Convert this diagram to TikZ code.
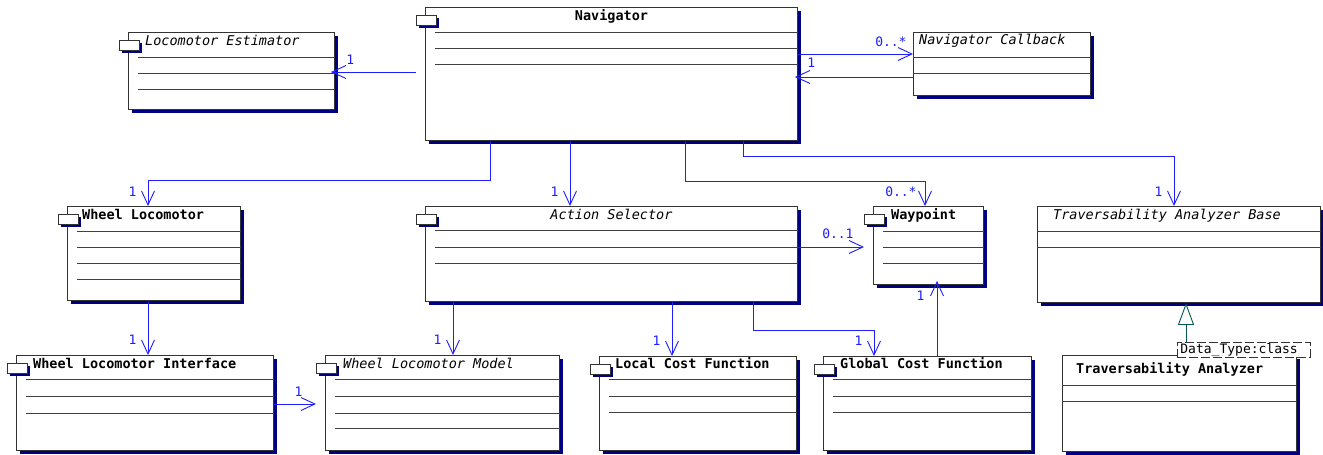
\documentclass[tikz,border=0pt]{standalone}
\usepackage{fontspec}
\setmonofont{DejaVu Sans Mono}
\usetikzlibrary{arrows.meta, shadows}

\definecolor{assocblue}{RGB}{30,30,255}
\definecolor{shadowblue}{RGB}{0,0,128}
\definecolor{genteal}{RGB}{0,85,85}

% class box: name, top-left, width, height, compartment offsets, line inset
\newcommand{\umlclass}[6]{%
  \node[classbox, minimum width=#3pt, minimum height=#4pt] (#1) at (#2) {};
  \foreach \dy in {#5}
    \draw[compline] ([xshift=#6pt, yshift=-\dy pt]#1.north west) -- ([yshift=-\dy pt]#1.north east);
}
% small tab on the left edge of a class
\newcommand{\classicon}[1]{%
  \fill[shadowblue] ([xshift=-6pt, yshift=-11pt]#1.north west) rectangle ++(20,10);
  \draw[iconbox] ([xshift=-9pt, yshift=-8pt]#1.north west) rectangle ++(20,10);
}

\begin{document}
\begin{tikzpicture}[x=1pt, y=-1pt,
    classbox/.style={draw=black!80, fill=white, line width=0.9pt, inner sep=0pt, anchor=north west,
      drop shadow={shadow xshift=4pt, shadow yshift=-4pt, fill=shadowblue, opacity=1}},
    compline/.style={draw=black!75, line width=0.8pt},
    iconbox/.style={draw=black!80, fill=white, line width=0.8pt},
    title/.style={inner sep=0pt, text height=10pt, text depth=3pt},
    abstract/.style={title, font=\ttfamily\itshape\fontsize{13.5}{16}\selectfont},
    concrete/.style={title, font=\ttfamily\bfseries\fontsize{13.5}{16}\selectfont},
    assoc/.style={draw=assocblue, line width=0.9pt, -{Straight Barb[length=14pt, width=13pt]}},
    mult/.style={text=assocblue, font=\ttfamily\fontsize{13}{15}\selectfont, inner sep=0pt},
    gen/.style={draw=genteal, line width=0.9pt, -{Triangle[open, length=22pt, width=16pt]}},
    param/.style={draw=black!80, dash pattern=on 9pt off 3pt, fill=white, line width=0.8pt,
      font=\ttfamily\fontsize{13}{15}\selectfont, text width=127pt, inner xsep=3pt, inner ysep=1pt,
      text height=10pt, text depth=3pt, anchor=north west}
  ]
  \fill[white] (0,0) rectangle (1323,455);
  \useasboundingbox (0,0) rectangle (1323,455);

  % ---------- top row ----------
  \umlclass{nav}{425,7}{372}{133}{25,41,57}{10}
  \classicon{nav}
  \node[concrete] (navT) at ([yshift=-10pt]nav.north) {Navigator};

  \umlclass{le}{128,32}{206}{77}{25,41,57}{10}
  \classicon{le}
  \node[abstract, anchor=west] (leT) at ([xshift=17pt, yshift=-10pt]le.north west) {Locomotor Estimator};

  \umlclass{cb}{913,32}{177}{63}{25,41}{0}
  \node[abstract, anchor=west] (cbT) at ([xshift=6pt, yshift=-9pt]cb.north west) {Navigator Callback};

  % ---------- middle row ----------
  \umlclass{wl}{67,206}{173}{94}{25,41,57,73}{10}
  \classicon{wl}
  \node[concrete, anchor=west] (wlT) at ([xshift=15pt, yshift=-10pt]wl.north west) {Wheel Locomotor};

  \umlclass{as}{425,206}{372}{95}{24,41,57}{10}
  \classicon{as}
  \node[abstract] (asT) at ([yshift=-10pt]as.north) {Action Selector};

  \umlclass{wp}{873,206}{110}{78}{25,41,57}{10}
  \classicon{wp}
  \node[concrete, anchor=west] (wpT) at ([xshift=18pt, yshift=-10pt]wp.north west) {Waypoint};

  \umlclass{tab}{1037,206}{283}{96}{25,41}{0}
  \node[abstract, anchor=west] (tabT) at ([xshift=16pt, yshift=-10pt]tab.north west) {Traversability Analyzer Base};

  % ---------- bottom row ----------
  \umlclass{wli}{16,355}{257}{95}{24,41,58}{10}
  \classicon{wli}
  \node[concrete, anchor=west] (wliT) at ([xshift=17pt, yshift=-10pt]wli.north west) {Wheel Locomotor Interface};

  \umlclass{wlm}{325,355}{234}{95}{24,41,58,73}{10}
  \classicon{wlm}
  \node[abstract, anchor=west] (wlmT) at ([xshift=18pt, yshift=-10pt]wlm.north west) {Wheel Locomotor Model};

  \umlclass{lcf}{599,356}{197}{94}{23,40,56}{10}
  \classicon{lcf}
  \node[concrete, anchor=west] (lcfT) at ([xshift=16pt, yshift=-9pt]lcf.north west) {Local Cost Function};

  \umlclass{gcf}{823,356}{208}{94}{23,40,56}{10}
  \classicon{gcf}
  \node[concrete, anchor=west] (gcfT) at ([xshift=17pt, yshift=-9pt]gcf.north west) {Global Cost Function};

  \umlclass{ta}{1062,355}{234}{96}{30,46}{0}
  \node[concrete, anchor=west] (taT) at ([xshift=14pt, yshift=-15pt]ta.north west) {Traversability Analyzer};

  % ---------- associations ----------
  \draw[assoc, shorten <=9pt, shorten >=-4pt] (nav.west |- 0,72) -- (le.east |- 0,72)
    node[mult, anchor=south west, xshift=11pt, yshift=7pt] (mLE) {1};
  \draw[assoc] (nav.east |- 0,54) -- (cb.west |- 0,54)
    node[mult, anchor=south east, xshift=-6pt, yshift=7pt] (mCB) {0..*};
  \draw[assoc, shorten >=-3pt] (cb.west |- 0,77) -- (nav.east |- 0,77)
    node[mult, anchor=south west, xshift=9pt, yshift=9pt] (mNAV) {1};

  \draw[assoc] (nav.south -| 490,0) -- ++(0,40) -| (wl.north -| 148,0)
    node[mult, anchor=south east, xshift=-11pt, yshift=9pt] (mWL) {1};
  \draw[assoc] (nav.south -| 570,0) -- (as.north -| 570,0)
    node[mult, anchor=south east, xshift=-11pt, yshift=9pt] (mAS) {1};
  \draw[assoc] (nav.south -| 685,0) -- ++(0,41) -| (wp.north -| 925,0)
    node[mult, anchor=south east, xshift=-8pt, yshift=9pt] (mWP) {0..*};
  \draw[assoc] (nav.south -| 743,0) -- ++(0,16) -| (tab.north -| 1174,0)
    node[mult, anchor=south east, xshift=-11pt, yshift=9pt] (mTAB) {1};

  \draw[assoc, shorten >=9pt] (as.east |- 0,247) -- (wp.west |- 0,247)
    node[mult, anchor=south east, xshift=-19pt, yshift=8pt] (mWP2) {0..1};

  \draw[assoc] (wl.south -| 148,0) -- (wli.north -| 148,0)
    node[mult, anchor=south east, xshift=-11pt, yshift=10pt] (mWLI) {1};
  \draw[assoc, shorten >=9pt] (wli.east |- 0,404) -- (wlm.west |- 0,404)
    node[mult, anchor=south east, xshift=-22pt, yshift=7pt] (mWLM) {1};

  \draw[assoc] (as.south -| 453,0) -- (wlm.north -| 453,0)
    node[mult, anchor=south east, xshift=-11pt, yshift=10pt] (mWLM2) {1};
  \draw[assoc] (as.south -| 672,0) -- (lcf.north -| 672,0)
    node[mult, anchor=south east, xshift=-11pt, yshift=10pt] (mLCF) {1};
  \draw[assoc] (as.south -| 753,0) -- ++(0,29) -| (gcf.north -| 874,0)
    node[mult, anchor=south east, xshift=-11pt, yshift=10pt] (mGCF) {1};

  \draw[assoc, shorten >=-4pt] (gcf.north -| 937,0) -- (wp.south -| 937,0)
    node[mult, anchor=north east, xshift=-12pt, yshift=-6pt] (mWP3) {1};

  % ---------- generalization ----------
  \draw[gen] (ta.north -| 1186,0) -- (tab.south -| 1186,0);
  \node[param] (dt) at (1177,342) {Data\_Type:class};
\end{tikzpicture}
\end{document}
